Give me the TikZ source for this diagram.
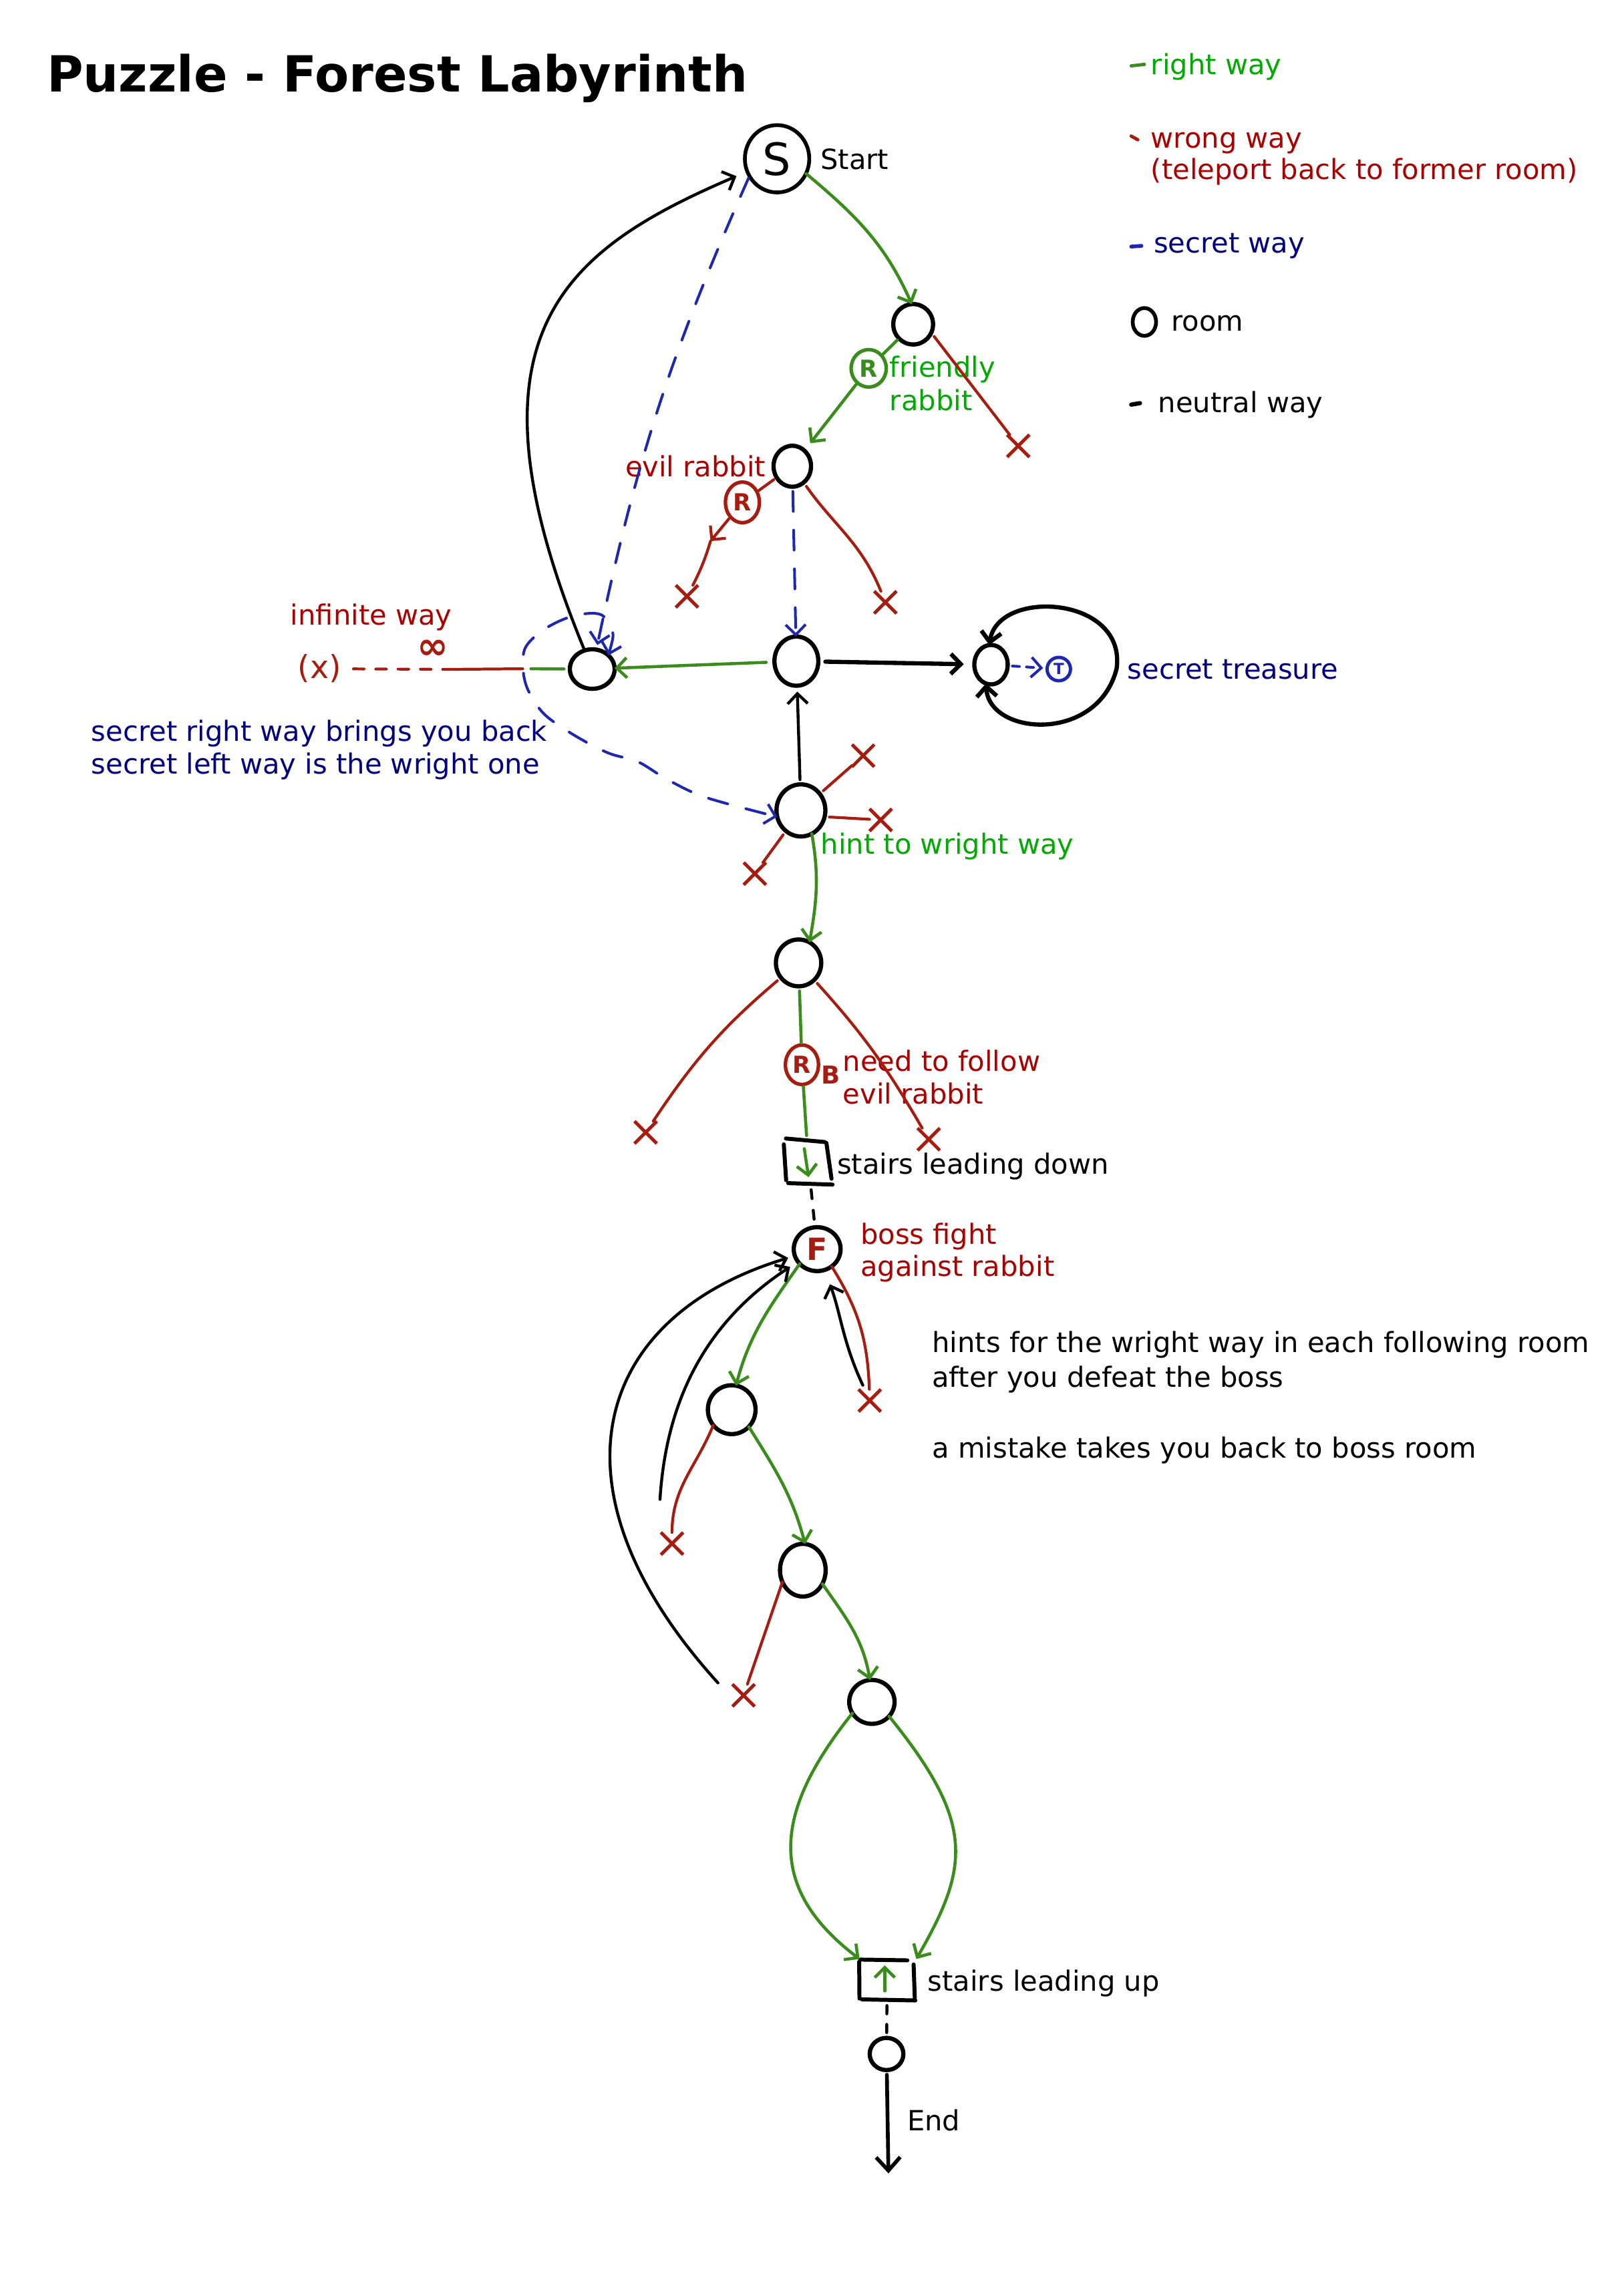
\documentclass[tikz,border=0pt]{standalone}
\usepackage{fontspec}
\setmainfont{DejaVu Sans}
\usetikzlibrary{arrows.meta,shapes.geometric,shapes.misc}
\definecolor{gline}{RGB}{58,140,28}
\definecolor{gtext}{RGB}{0,170,0}
\definecolor{rline}{RGB}{168,28,16}
\definecolor{rtext}{RGB}{170,0,0}
\definecolor{bline}{RGB}{30,40,175}
\definecolor{btext}{RGB}{0,0,128}
\def\dpx{0.0219cm}
\begin{document}
\begin{tikzpicture}[x=0.0219cm, y=-0.0219cm,
  font=\fontsize{11.85}{14.2}\selectfont,
  >={Straight Barb[length=1.5mm,width=3mm]},
  room/.style={ellipse, draw=black, line width=1.8pt, inner sep=0pt, outer sep=0pt},
  rm/.style 2 args={room, minimum width=2*#1*\dpx, minimum height=2*#2*\dpx},
  rab/.style 2 args={ellipse, line width=1.5pt, inner sep=0pt, outer sep=0pt,
     minimum width=2*#1*\dpx, minimum height=2*#2*\dpx, font=\fontsize{10}{10}\selectfont\bfseries},
  txt/.style={anchor=base west, inner sep=0pt, outer sep=0pt},
  rightway/.style={draw=gline, line width=1.3pt, line cap=round},
  wrongway/.style={draw=rline, line width=1.2pt, line cap=round},
  secretway/.style={draw=bline, line width=1.15pt, line cap=round, dash pattern=on 8.5pt off 8pt},
  neutralway/.style={draw=black, line width=1.25pt, line cap=round},
  boxline/.style={draw=black, line width=1.7pt, line cap=round},
  xm/.style={cross out, draw=rline, line width=1.4pt, minimum size=13*\dpx, inner sep=0pt}]
\useasboundingbox (0,0) rectangle (1100,1569);

% ---------- title ----------
\node[txt, font=\fontsize{21.2}{25}\selectfont\bfseries] (title) at (32,62.6) {Puzzle - Forest Labyrinth};

% ---------- legend ----------
\draw[draw=gline, line width=1.4pt, line cap=round] (773,45) -- (782,44);
\node[txt, text=gtext] (lgright) at (786.5,51) {right way};
\draw[draw=rline, line width=1.4pt, line cap=round] (773,93) -- (777.5,95.5);
\node[txt, text=rtext] (lgwrong) at (786.5,101) {wrong way};
\node[txt, text=rtext] (lgwrong2) at (786.5,122.4) {(teleport back to former room)};
\draw[draw=bline, line width=1.6pt, line cap=round] (773,168.5) -- (780,168);
\node[txt, text=btext] (lgsecret) at (788.5,173) {secret way};
\node[rm={8}{9.5}, line width=1.6pt] (lgroom) at (782,220) {};
\node[txt] (lgroomt) at (800.5,226) {room};
\draw[draw=black, line width=1.8pt, line cap=round] (773,276.5) -- (779,275.5);
\node[txt] (lgneutral) at (791.5,282) {neutral way};

% ---------- rooms ----------
\node[rm={22}{23}, line width=1.6pt, font=\fontsize{19}{19}\selectfont] (S) at (531,108.5) {S};
\node[txt] (startl) at (560.7,115.8) {Start};
\node[rm={13.6}{13.8}] (A) at (624,221.6) {};
\node[rm={12.8}{14}] (B) at (541.4,318.6) {};
\node[rm={15}{16.8}] (C) at (544.2,451.8) {};
\node[rm={15.3}{13.5}] (D) at (404.7,457.2) {};
\node[rm={11.4}{13.5}] (T) at (677.2,454.2) {};
\node[rm={16.7}{17.8}] (E) at (547.3,553.8) {};
\node[rm={15.5}{16}] (F) at (545.7,658) {};
\node[rm={16}{15}, text=rline, font=\fontsize{13}{13}\selectfont\bfseries] (Boss) at (558.4,853.6) {F};
\node[rm={16.3}{16.7}] (G1) at (500,963.3) {};
\node[rm={15.6}{18}] (G2) at (548.6,1073) {};
\node[rm={15.5}{15}] (G3) at (595.8,1163) {};
\node[rm={11.5}{11}] (End) at (605.8,1403.6) {};

% rabbits and treasure
\node[rab={12}{12.8}, draw=gline, text=gline] (R1) at (593.6,251.7) {R};
\node[rab={11.6}{13.9}, draw=rline, text=rline] (Rev) at (507.3,343.3) {R};
\node[rab={11.3}{13.5}, draw=rline, text=rline] (R2) at (548,727.6) {R};
\node[text=rline, inner sep=0pt, font=\fontsize{10.5}{10.5}\selectfont\bfseries] (Bl) at (567.6,734.7) {B};
\node[circle, draw=bline, text=bline, line width=1.4pt, minimum size=16*\dpx, inner sep=0pt, font=\fontsize{6.5}{6.5}\selectfont\bfseries] (Ts) at (723.5,457.2) {T};

% stairs
\node[minimum width=34.2*\dpx, minimum height=31.6*\dpx, inner sep=0pt] (SD) at (552.3,793.7) {};
\draw[boxline] (537,778) -- (563.6,780.4);
\draw[boxline] (535.6,782) -- (537.2,806.5);
\draw[boxline] (564.7,781) -- (568.2,805.5);
\draw[boxline] (538.6,808.5) -- (568.9,809.5);
\draw[rightway, ->] (549.6,785) -- (552.5,804.4);
\node[minimum width=39.2*\dpx, minimum height=28*\dpx, inner sep=0pt] (SU) at (606.2,1353) {};
\draw[boxline] (587.8,1339.1) -- (620,1339.6);
\draw[boxline] (587.1,1340.6) -- (587.3,1365.7);
\draw[boxline] (624.3,1342.4) -- (625.1,1365.2);
\draw[boxline] (589,1366.3) -- (625.5,1367);
\draw[rightway, ->] (604.6,1360.5) -- (604.6,1343);

% crosses
\node[xm] (xA) at (695.8,304.7) {};
\node[xm] (xB1) at (469.4,407.5) {};
\node[xm] (xB2) at (605,411.6) {};
\node[xm] (xE1) at (589.8,516.4) {};
\node[xm] (xE2) at (601.8,560.3) {};
\node[xm] (xE3) at (515.8,597) {};
\node[xm] (xF1) at (441.2,773.8) {};
\node[xm] (xF2) at (634.6,778.5) {};
\node[xm] (xBoss) at (594.3,957) {};
\node[xm] (xG1) at (459.2,1054.8) {};
\node[xm] (xG2) at (508.1,1158.5) {};

% ---------- labels ----------
\node[txt, text=gtext] (fr1) at (608,257.9) {friendly};
\node[txt, text=gtext] (fr2) at (608,280.3) {rabbit};
\node[txt, text=rtext] (evl) at (427.3,325.9) {evil rabbit};
\node[txt, text=rtext] (infl) at (198.5,426.9) {infinite way};
\node[text=rline, inner sep=0pt, font=\fontsize{13.5}{13.5}\selectfont] (xinf) at (218.3,457) {(x)};
\node[text=rline, inner sep=0pt, font=\fontsize{16}{16}\selectfont\bfseries] (infty) at (296,444) {∞};
\node[txt, text=btext] (tre) at (770.5,464) {secret treasure};
\node[txt, text=btext] (sec1) at (62.5,506.4) {secret right way brings you back};
\node[txt, text=btext] (sec2) at (62.5,528.8) {secret left way is the wright one};
\node[txt, text=gtext] (hint) at (561,583.4) {hint to wright way};
\node[txt, text=rtext] (nf1) at (576,732) {need to follow};
\node[txt, text=rtext] (nf2) at (576,754.5) {evil rabbit};
\node[txt] (sdl) at (572,802.3) {stairs leading down};
\node[txt, text=rtext] (bf1) at (588,850.3) {boss fight};
\node[txt, text=rtext] (bf2) at (588,872) {against rabbit};
\node[txt] (h1) at (637,924.4) {hints for the wright way in each following room};
\node[txt] (h2) at (637,947.7) {after you defeat the boss};
\node[txt] (h3) at (637,996.2) {a mistake takes you back to boss room};
\node[txt] (sul) at (634,1360.5) {stairs leading up};
\node[txt] (endl) at (620,1456) {End};

% ---------- connectors ----------
% top part
\draw[rightway, ->] (S.-27) to[out=-40, in=114] (A.94);
\draw[rightway, shorten <=1pt, shorten >=1pt] (A) -- (R1);
\draw[rightway, ->, shorten <=1pt, shorten >=4pt] (R1) -- (B);
\draw[wrongway, shorten <=2pt] (A.-25) -- (xA);
\draw[wrongway, shorten <=1.5pt, shorten >=1pt] (B) -- (Rev);
\coordinate (revmid) at (485.5,369.8);
\draw[wrongway, ->, shorten <=1pt] (Rev) -- (revmid);
\draw[wrongway] (revmid) to[bend left=5] (xB1);
\draw[wrongway, shorten <=2pt] (B) to[out=-55, in=112] (xB2);
\draw[secretway, ->, shorten <=2pt] (B) -- (C);
\draw[secretway, ->, shorten <=1pt, shorten >=2pt] (S.212) to[bend right=6] (D.78);
\draw[neutralway, ->, shorten <=1pt, shorten >=5pt] (D) .. controls (311,229) and (385,171) .. (S);

% middle
\draw[rightway, ->, shorten <=3.5pt] (C) -- (D);
\coordinate (redL) at (309,457.4);
\coordinate (loopL) at (358,457);
\draw[rightway, shorten <=3pt, shorten >=2.5pt] (loopL) -- (D);
\draw[wrongway, shorten >=0.5pt] (redL) -- (loopL);
\draw[wrongway, dash pattern=on 4.5pt off 5pt, shorten <=5pt] (xinf) -- (redL);
\draw[secretway, <->] plot[smooth, tension=0.55] coordinates {(D.40) (418.5,431) (411.2,420.3) (398,419.6) (383.6,423.8) (369,432) (358.8,443) (357.4,457.4) (360.9,471.7) (371.9,488) (392.2,502.3) (415.5,514.5) (436,520.6) (456.4,532.9) (482.6,545) (E.195)};
\draw[neutralway, line width=1.8pt, ->, shorten <=3pt, shorten >=4.5pt] (C) -- (T);
\draw[neutralway, line width=1.8pt, <->] (T.-105) .. controls (676,503) and (750,508) .. (763,457) .. controls (770,407) and (682,402) .. (T.95);
\draw[secretway, dash pattern=on 3pt off 3pt, ->, shorten <=2pt, shorten >=1pt] (T) -- (Ts);
\draw[neutralway, ->, shorten <=2pt, shorten >=2.5pt] (E) -- (C);
\draw[wrongway, shorten <=2pt] (E) -- (xE1);
\draw[wrongway, shorten <=2pt] (E.-15) -- (xE2);
\draw[wrongway, shorten <=2pt] (E) -- (xE3);
\draw[rightway, ->] (E.-65) to[out=-80, in=80] (F.62);

% lower part
\draw[wrongway, shorten <=2pt] (F) to[bend right=8] (xF1);
\draw[wrongway, shorten <=2pt] (F) to[bend left=6] (xF2);
\draw[rightway, shorten <=2pt, shorten >=1pt] (F) -- (R2);
\draw[rightway, shorten <=1pt, shorten >=1pt] (R2) -- (SD);
\draw[neutralway, dash pattern=on 3.8pt off 5pt, shorten <=2pt] (SD) -- (Boss);
\draw[rightway, ->] (Boss.-140) to[out=-125, in=75] (G1.80);
\draw[wrongway] (Boss.-50) to[out=-58, in=92] (xBoss);
\coordinate (bossret) at (589.6,946.6);
\draw[neutralway, ->, shorten >=6.5pt] (bossret) to[out=115, in=-70] (Boss);
\draw[wrongway] (G1.-140) to[out=-112, in=90] (xG1);
\draw[rightway, ->] (G1.-45) to[out=-58, in=105] (G2.85);
\draw[wrongway] (G2.-150) -- (xG2);
\draw[rightway, ->] (G2.-35) to[out=-55, in=100] (G3.95);
\coordinate (ret2) at (490.6,1150);
\draw[neutralway, ->, shorten >=3pt] (ret2) .. controls (370,1017) and (405.6,899.8) .. (Boss);
\coordinate (ret1) at (451,1024.6);
\draw[neutralway, ->, shorten >=4pt] (ret1) .. controls (455,960) and (480,905) .. (Boss);
\draw[rightway, ->] (G3.-150) .. controls (529.6,1236.8) and (522,1289) .. (SU);
\draw[rightway, ->] (G3.-40) .. controls (666,1245) and (663,1275) .. (SU.north east);
\draw[neutralway, dash pattern=on 3.5pt off 4.5pt, shorten <=2pt] (SU) -- (End);
\coordinate (endtip) at (607.1,1485.2);
\draw[neutralway, line width=1.6pt, -{Straight Barb[length=2mm,width=3.6mm]}, shorten <=2pt] (End) -- (endtip);
\end{tikzpicture}
\end{document}
